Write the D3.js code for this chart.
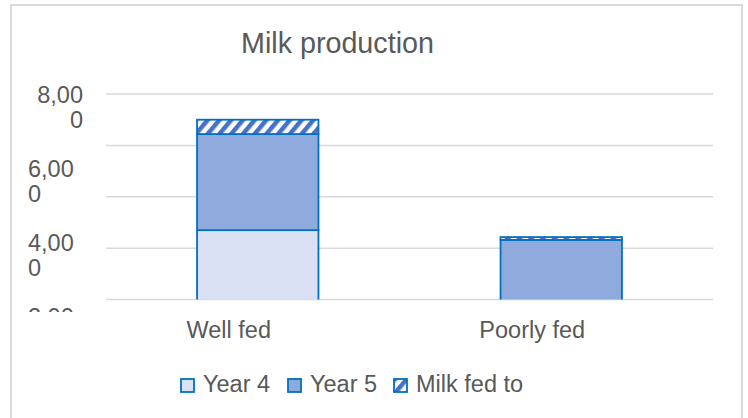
<!DOCTYPE html>
<html>
<head>
<meta charset="utf-8">
<script src="https://cdn.jsdelivr.net/npm/d3@7"></script>
<style>
  body { margin: 0; background: #fff; }
  text { font-family: "Liberation Sans", Arial, sans-serif; fill: #595959; }
</style>
</head>
<body>
<div id="chart"></div>
<script>

const categories = ['Well fed', 'Poorly fed'];
const seriesNames = ['Year 4', 'Year 5', 'Milk fed to'];
const year4 = [5350, 0];
const year5 = [1870, 5160];
const milkFedTo = [280, 55];
const gridTicks = [4000, 5000, 6000, 7000, 8000];
const labelTicks = [8000, 6000, 4000, 2000];

const svgWidth = 748, svgHeight = 418;
const plot = { left: 106, right: 713, top: 94, bottom: 299.5 };
const gridColor = '#d9d9d9';
const strokeColor = '#0070c0';

const svg = d3.select('#chart')
    .append('svg')
    .attr('width', svgWidth)
    .attr('height', svgHeight);

const defs = svg.append('defs');

// wide upward diagonal fill for "Milk fed to"
const pattern = defs.append('pattern')
    .attr('id', 'diag')
    .attr('patternUnits', 'userSpaceOnUse')
    .attr('width', 9)
    .attr('height', 9)
    .attr('patternTransform', 'rotate(40)');
pattern.append('rect').attr('width', 9).attr('height', 9).attr('fill', '#fff');
pattern.append('rect').attr('width', 4.5).attr('height', 9).attr('fill', '#4472c4');

defs.append('clipPath').attr('id', 'plotClip')
    .append('rect')
    .attr('x', 0).attr('y', plot.top - 40)
    .attr('width', svgWidth).attr('height', plot.bottom - plot.top + 40);

defs.append('clipPath').attr('id', 'labelClip')
    .append('rect')
    .attr('x', 0).attr('y', 0)
    .attr('width', svgWidth).attr('height', 312);

// chart border
svg.append('rect')
    .attr('x', 11).attr('y', 5)
    .attr('width', 731).attr('height', svgHeight + 10)
    .attr('fill', 'none')
    .attr('stroke', gridColor)
    .attr('stroke-width', 2);

svg.append('text')
    .attr('x', 241)
    .attr('y', 53)
    .attr('font-size', 28.7)
    .text('Milk production');

const xScale = d3.scaleBand()
    .domain(categories)
    .range([plot.left, plot.right])
    .paddingInner(0.6)
    .paddingOuter(0.3);

const yScale = d3.scaleLinear()
    .domain([4000, 8000])
    .range([plot.bottom, plot.top]);

// the value labels sit on their own (wrapped, overlapping) spacing
const labelScale = d3.scaleLinear()
    .domain([2000, 8000])
    .range([325, 102.7]);

// gridlines
svg.append('g')
    .selectAll('line')
    .data(gridTicks)
    .join('line')
    .attr('x1', plot.left)
    .attr('x2', plot.right)
    .attr('y1', d => yScale(d))
    .attr('y2', d => yScale(d))
    .attr('stroke', gridColor)
    .attr('stroke-width', 1.5);

// y labels, wrapped onto two lines
const fmt = d3.format(',');
const yLabels = svg.append('g')
    .attr('clip-path', 'url(#labelClip)')
    .selectAll('text')
    .data(labelTicks)
    .join('text')
    .attr('font-size', 23.5)
    .attr('text-anchor', (d, i) => i === 0 ? 'end' : 'start')
    .attr('y', d => labelScale(d));

yLabels.selectAll('tspan')
    .data(d => { const s = fmt(d); return [s.slice(0, -1), s.slice(-1)]; })
    .join('tspan')
    .attr('x', function () { return this.parentNode.getAttribute('text-anchor') === 'end' ? 83 : 28; })
    .attr('dy', (d, i) => i === 0 ? 0 : 25.5)
    .text(d => d);

// stacked bars
const rows = categories.map((c, i) => ({
    category: c,
    'Year 4': year4[i],
    'Year 5': year5[i],
    'Milk fed to': milkFedTo[i]
}));
const stacked = d3.stack().keys(seriesNames)(rows);
const fills = { 'Year 4': '#dae1f4', 'Year 5': '#8faadc', 'Milk fed to': 'url(#diag)' };

const barsGroup = svg.append('g').attr('clip-path', 'url(#plotClip)');
barsGroup.selectAll('g')
    .data(stacked)
    .join('g')
    .attr('fill', d => fills[d.key])
    .selectAll('rect')
    .data(d => d.filter(p => p[1] > p[0]))
    .join('rect')
    .attr('x', d => xScale(d.data.category))
    .attr('y', d => yScale(d[1]))
    .attr('width', xScale.bandwidth())
    .attr('height', d => yScale(d[0]) - yScale(d[1]))
    .attr('stroke', strokeColor)
    .attr('stroke-width', 1.8);

// category labels (sit a little left of the bar centres in the original)
svg.append('g')
    .selectAll('text')
    .data(categories)
    .join('text')
    .attr('x', d => xScale(d) + xScale.bandwidth() / 2 - 29)
    .attr('y', 338)
    .attr('text-anchor', 'middle')
    .attr('font-size', 23.5)
    .text(d => d);

// legend
const legendX = [180, 287, 393];
const legend = svg.append('g')
    .selectAll('g')
    .data(seriesNames)
    .join('g')
    .attr('transform', (d, i) => `translate(${legendX[i]}, 378)`);

legend.append('rect')
    .attr('x', 1).attr('y', 1)
    .attr('width', 13).attr('height', 13)
    .attr('fill', d => fills[d])
    .attr('stroke', strokeColor)
    .attr('stroke-width', 1.8);

legend.append('text')
    .attr('x', 23)
    .attr('y', 14)
    .attr('font-size', 23.5)
    .text(d => d);

</script>
</body>
</html>
